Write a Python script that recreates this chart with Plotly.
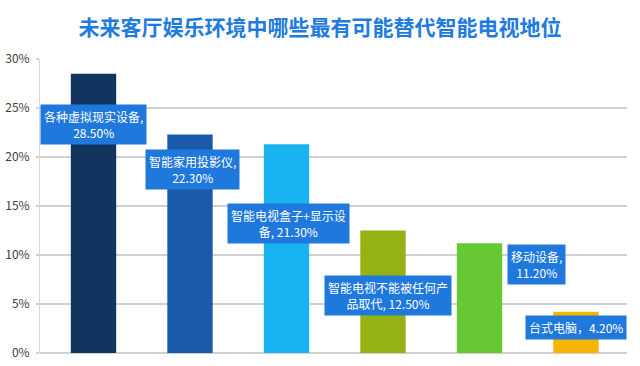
import plotly.graph_objects as go

categories = ["各种虚拟现实设备", "智能家用投影仪", "智能电视盒子+显示设备",
              "智能电视不能被任何产品取代", "移动设备", "台式电脑"]
values = [28.5, 22.3, 21.3, 12.5, 11.2, 4.2]
label_texts = ["各种虚拟现实设备,<br>28.50%", "智能家用投影仪,<br>22.30%",
               "智能电视盒子+显示设<br>备, 21.30%", "智能电视不能被任何产<br>品取代, 12.50%",
               "移动设备,<br>11.20%", "台式电脑，4.20%"]
tick_vals = [0, 5, 10, 15, 20, 25, 30]
tick_text = ["0%", "5%", "10%", "15%", "20%", "25%", "30%"]

bar_colors = ["#12355f", "#1a5aab", "#19b3f2", "#94b213", "#66c833", "#f6b500"]
# label placement (y in data units, x pixel shift)
label_y = [23.3, 18.7, 13.2, 5.9, 9.0, 2.6]
label_xshift = [0, 2, 2, 5, 57, 0]

font_family = "Noto Sans CJK SC, Microsoft YaHei, sans-serif"

fig = go.Figure()
fig.add_trace(go.Bar(
    x=categories, y=values, marker=dict(color=bar_colors, line=dict(width=0)),
    width=0.47, showlegend=False, hoverinfo="x+y",
))

for c, t, ly, xs in zip(categories, label_texts, label_y, label_xshift):
    fig.add_annotation(
        x=c, y=ly, text=t, showarrow=False, xshift=xs,
        font=dict(color="white", size=12, family=font_family),
        bgcolor="#1f78dc", borderpad=3, align="center",
    )

fig.update_layout(
    width=640, height=366,
    margin=dict(l=40, r=13, t=59, b=13, autoexpand=False),
    paper_bgcolor="white", plot_bgcolor="white",
    title=dict(text="<b>未来客厅娱乐环境中哪些最有可能替代智能电视地位</b>",
               x=0.5, xanchor="center", xref="container", y=1 - 28 / 366, yref="container",
               yanchor="middle", automargin=False,
               font=dict(size=21, color="#1e7be0", family=font_family)),
    xaxis=dict(showticklabels=False, showgrid=False, zeroline=False,
               showline=False, ticks="", automargin=False),
    yaxis=dict(range=[0, 30], tickvals=tick_vals, ticktext=tick_text,
               showgrid=True, gridcolor="#d0d0d0", gridwidth=1.5,
               zeroline=True, zerolinecolor="#d0d0d0", zerolinewidth=1.5,
               showline=True, linecolor="#d8d8d8", linewidth=1,
               ticks="outside", ticklen=3, tickcolor="#d0d0d0", tickwidth=1.5,
               tickfont=dict(size=12, color="#404040", family=font_family),
               ticklabelstandoff=4, automargin=False),
    bargap=0.53,
)

fig.write_html("out.html", config={"displayModeBar": False},
               post_script="document.body.style.margin='0';")
